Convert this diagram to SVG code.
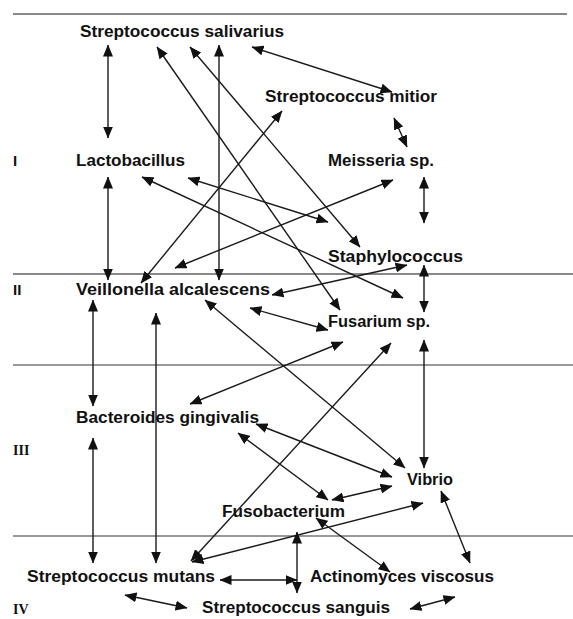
<svg xmlns="http://www.w3.org/2000/svg" width="573" height="619" viewBox="0 0 573 619">
<style>
.t{font-family:"Liberation Sans",Arial,sans-serif;font-weight:bold;font-size:16px;fill:#111}
.r{font-family:"Liberation Sans",Arial,sans-serif;font-weight:bold;font-size:15px;fill:#111}
.rs{font-family:"Liberation Serif","Times New Roman",serif;font-weight:bold;font-size:14px;fill:#111}
.sep{stroke:#888;stroke-width:2}
.sep2{stroke:#333;stroke-width:1.2}
.c line{stroke:#1a1a1a;stroke-width:1.4;marker-start:url(#ah);marker-end:url(#ah)}
</style>
<defs>
<marker id="ah" markerUnits="userSpaceOnUse" markerWidth="12" markerHeight="10" refX="11.5" refY="5" orient="auto-start-reverse" viewBox="0 0 12 10">
<path d="M0,0 L12,5 L0,10 z" fill="#111"/>
</marker>
</defs>
<rect width="573" height="619" fill="#fff"/>
<g id="separators">
<line class="sep" x1="13" y1="14" x2="567" y2="14"/>
<line class="sep" x1="13" y1="274" x2="573" y2="274"/>
<line class="sep2" x1="13" y1="365" x2="573" y2="365"/>
<line class="sep2" x1="13" y1="536" x2="573" y2="536"/>
</g>
<g id="levels">
<text class="r" x="13" y="166">I</text>
<text class="r" x="13" y="295">II</text>
<text class="rs" x="13" y="455">III</text>
<text class="rs" x="13" y="614">IV</text>
</g>
<g id="connectors" class="c">
<line x1="108" y1="45" x2="108" y2="138"/>
<line x1="108" y1="177" x2="108" y2="280"/>
<line x1="219" y1="45" x2="219" y2="280"/>
<line x1="157" y1="47" x2="340" y2="310"/>
<line x1="190" y1="47" x2="360" y2="247"/>
<line x1="252" y1="47" x2="392" y2="92"/>
<line x1="394" y1="118" x2="407" y2="147"/>
<line x1="424" y1="177" x2="424" y2="223"/>
<line x1="424" y1="265" x2="424" y2="312"/>
<line x1="424" y1="340" x2="424" y2="468"/>
<line x1="282" y1="111" x2="141" y2="283"/>
<line x1="142" y1="177" x2="403" y2="298"/>
<line x1="188" y1="178" x2="328" y2="222"/>
<line x1="393" y1="180" x2="175" y2="268"/>
<line x1="272" y1="295" x2="407" y2="265"/>
<line x1="250" y1="308" x2="328" y2="330"/>
<line x1="205" y1="300" x2="405" y2="468"/>
<line x1="343" y1="342" x2="190" y2="404"/>
<line x1="391" y1="343" x2="191" y2="561"/>
<line x1="93" y1="300" x2="93" y2="406"/>
<line x1="156" y1="313" x2="156" y2="563"/>
<line x1="93" y1="438" x2="93" y2="563"/>
<line x1="256" y1="424" x2="392" y2="477"/>
<line x1="238" y1="433" x2="328" y2="500"/>
<line x1="332" y1="500" x2="392" y2="486"/>
<line x1="192" y1="562" x2="423" y2="503"/>
<line x1="297" y1="532" x2="297" y2="593"/>
<line x1="220" y1="580" x2="297" y2="580"/>
<line x1="316" y1="518" x2="390" y2="572"/>
<line x1="441" y1="491" x2="470" y2="563"/>
<line x1="125" y1="595" x2="187" y2="608"/>
<line x1="410" y1="609" x2="455" y2="597"/>
</g>
<g id="n-salivarius"><text class="t" x="80" y="37" textLength="204" lengthAdjust="spacingAndGlyphs">Streptococcus salivarius</text></g>
<g id="n-mitior"><text class="t" x="265" y="102" textLength="172" lengthAdjust="spacingAndGlyphs">Streptococcus mitior</text></g>
<g id="n-lactobacillus"><text class="t" x="76" y="166" textLength="109" lengthAdjust="spacingAndGlyphs">Lactobacillus</text></g>
<g id="n-meisseria"><text class="t" x="328" y="166" textLength="106" lengthAdjust="spacingAndGlyphs">Meisseria sp.</text></g>
<g id="n-staphylococcus"><text class="t" x="328" y="262" textLength="135" lengthAdjust="spacingAndGlyphs">Staphylococcus</text></g>
<g id="n-veillonella"><text class="t" x="76" y="295" textLength="194" lengthAdjust="spacingAndGlyphs">Veillonella alcalescens</text></g>
<g id="n-fusarium"><text class="t" x="328" y="327" textLength="102" lengthAdjust="spacingAndGlyphs">Fusarium sp.</text></g>
<g id="n-bacteroides"><text class="t" x="76" y="423" textLength="183" lengthAdjust="spacingAndGlyphs">Bacteroides gingivalis</text></g>
<g id="n-vibrio"><text class="t" x="407" y="485" textLength="46" lengthAdjust="spacingAndGlyphs">Vibrio</text></g>
<g id="n-fusobacterium"><text class="t" x="222" y="517" textLength="123" lengthAdjust="spacingAndGlyphs">Fusobacterium</text></g>
<g id="n-mutans"><text class="t" x="27" y="582" textLength="188" lengthAdjust="spacingAndGlyphs">Streptococcus mutans</text></g>
<g id="n-actinomyces"><text class="t" x="310" y="582" textLength="184" lengthAdjust="spacingAndGlyphs">Actinomyces viscosus</text></g>
<g id="n-sanguis"><text class="t" x="202" y="613" textLength="188" lengthAdjust="spacingAndGlyphs">Streptococcus sanguis</text></g>
</svg>
